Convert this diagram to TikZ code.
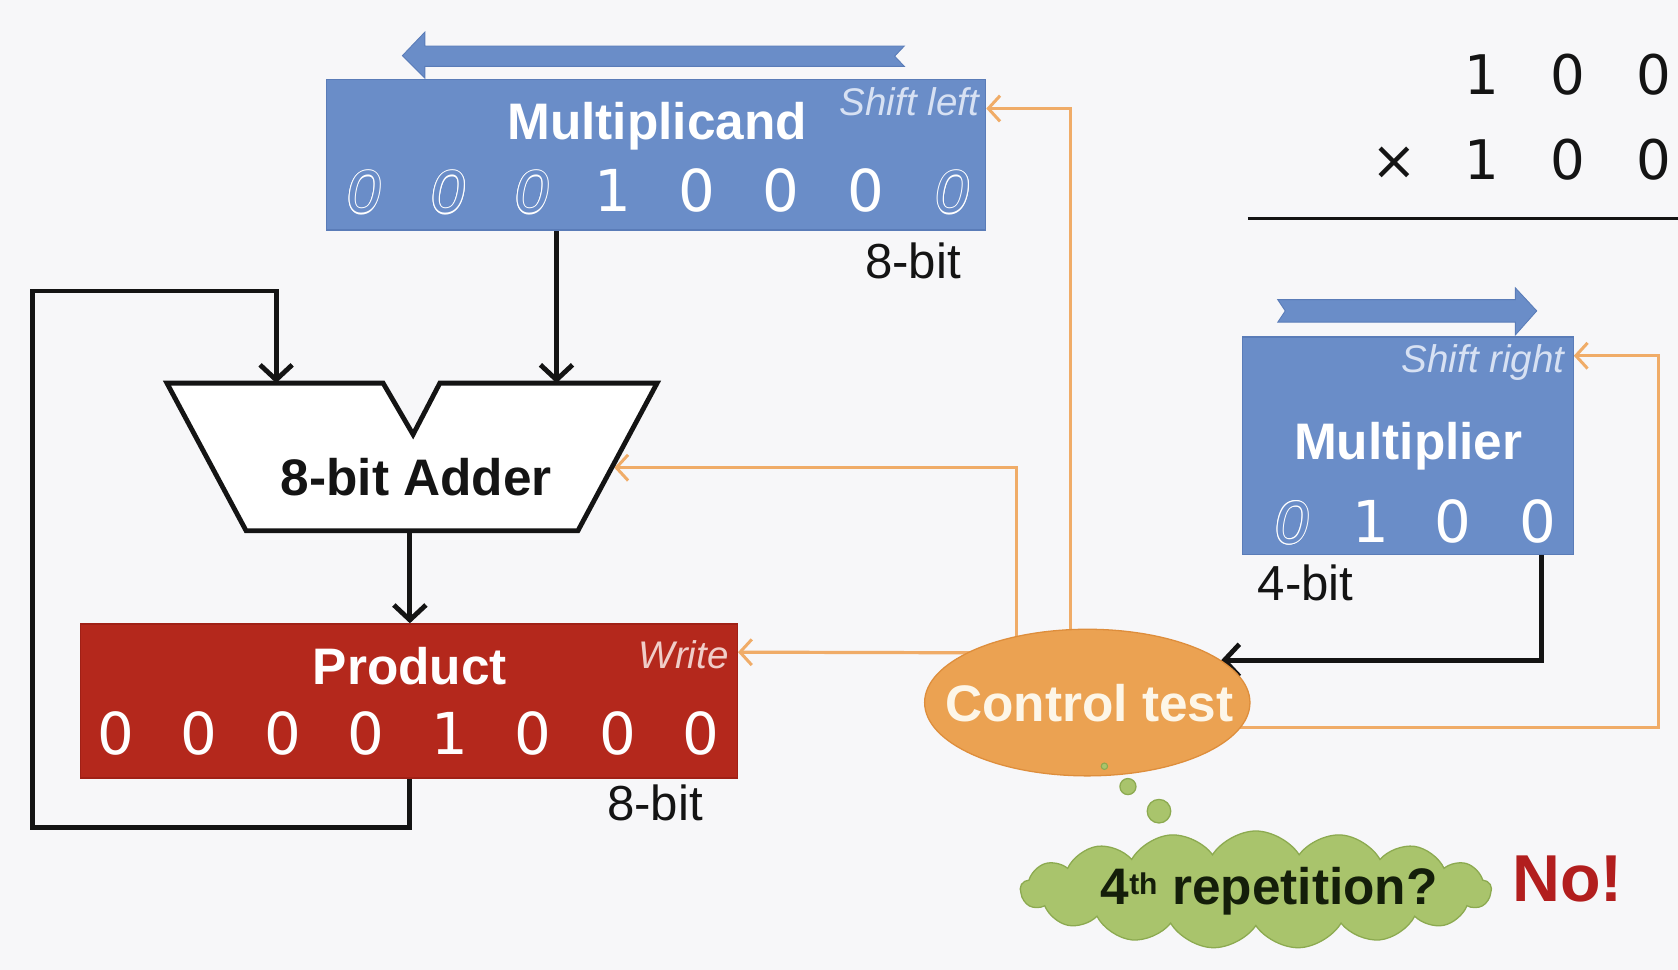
\documentclass[tikz,border=0pt]{standalone}
\usepackage{fontspec}
\setmainfont{Liberation Sans}
\newfontfamily\digitfont{DejaVu Sans}
\usetikzlibrary{arrows.meta,shapes.geometric,shapes.symbols,calc,backgrounds}

\definecolor{bgc}{RGB}{247,247,249}
\definecolor{regblue}{RGB}{106,141,200}
\definecolor{regblueedge}{RGB}{90,124,184}
\definecolor{regred}{RGB}{180,40,28}
\definecolor{regrededge}{RGB}{160,32,22}
\definecolor{ctlorange}{RGB}{235,162,82}
\definecolor{ctledge}{RGB}{222,142,60}
\definecolor{sigorange}{RGB}{240,172,104}
\definecolor{cloudgreen}{RGB}{169,196,108}
\definecolor{cloudedge}{RGB}{140,170,80}
\definecolor{nored}{RGB}{178,30,30}
\definecolor{bluetag}{RGB}{215,225,243}
\definecolor{redtag}{RGB}{240,205,200}
\definecolor{ink}{RGB}{20,20,20}

% a digit drawn as a white outline over the register colour
\newcommand\hollowzero[1]{%
  \setbox0=\hbox{\itshape 0}%
  \rlap{\color{white}%
    \rlap{\kern1pt\copy0}\rlap{\kern-1pt\copy0}%
    \rlap{\raise1pt\copy0}\rlap{\lower1pt\copy0}%
    \rlap{\kern0.7pt\raise0.7pt\copy0}\rlap{\kern-0.7pt\raise0.7pt\copy0}%
    \rlap{\kern0.7pt\lower0.7pt\copy0}\rlap{\kern-0.7pt\lower0.7pt\copy0}}%
  {\color{#1}\box0}}

\tikzset{
  reg/.style={rectangle, inner sep=0, line width=1.2pt},
  title/.style={font=\fontsize{48}{48}\selectfont\bfseries, text=white, inner sep=0, anchor=base},
  bit/.style={font=\digitfont\fontsize{54}{54}\selectfont, text=white, inner sep=0, anchor=base},
  hbit/.style={font=\fontsize{56}{56}\selectfont, inner sep=0, anchor=base},
  tag/.style={font=\fontsize{36}{36}\selectfont\itshape, inner sep=0, anchor=base east},
  sizelabel/.style={font=\fontsize{46}{46}\selectfont, text=ink, inner sep=0},
  arith/.style={font=\digitfont\fontsize{51}{51}\selectfont, text=ink, inner sep=0, anchor=base},
  wire/.style={draw=ink, line width=4.5pt, line join=miter,
    -{Straight Barb[length=14pt,width=30pt,line width=4.5pt]}},
  signal/.style={draw=sigorange, line width=3pt,
    -{Straight Barb[length=11pt,width=24pt,line width=2.8pt]}},
  blockarrow/.style={fill=regblue, draw=regblueedge, line width=0.8pt},
}

\begin{document}
\begin{tikzpicture}[x=1pt,y=-1pt]
\useasboundingbox (0,0) rectangle (1568,906);

% ---------- registers ----------
\node[reg, fill=regblue, draw=regblueedge, minimum width=616pt, minimum height=141pt] (mcand) at (613,144.5) {};
\node[reg, fill=regred, draw=regrededge, minimum width=614pt, minimum height=144pt] (prod) at (382,655) {};
\node[reg, fill=regblue, draw=regblueedge, minimum width=309pt, minimum height=203pt] (mplier) at (1315.5,416.5) {};

% shift direction arrows
\fill[blockarrow] (376,52) -- (397,30) -- (397,43) -- (845,43) -- (836,52.5) -- (845,62)
  -- (397,62) -- (397,73) -- cycle;
\fill[blockarrow] (1194,280) -- (1416,280) -- (1416,269) -- (1436,290.5) -- (1416,313)
  -- (1416,301) -- (1194,301) -- (1201,290.5) -- cycle;

% register titles and control tags
\node[title] (mcandtitle) at (614,130) {Multiplicand};
\node[tag, text=bluetag] (shl) at (915,108) {Shift left};
\node[title] (prodtitle) at (383,640) {Product};
\node[tag, text=redtag] (wr) at (681,625) {Write};
\node[title] (mpliertitle) at (1316,429) {Multiplier};
\node[tag, text=bluetag] (shr) at (1462,348) {Shift right};

% multiplicand bits
\node[hbit] (mc1) at (340,199) {\hollowzero{regblue}};
\node[hbit] (mc2) at (419,199) {\hollowzero{regblue}};
\node[hbit] (mc3) at (497,199) {\hollowzero{regblue}};
\node[bit]  (mc4) at (573,198) {1};
\node[bit]  (mc5) at (651,198) {0};
\node[bit]  (mc6) at (730,198) {0};
\node[bit]  (mc7) at (809,198) {0};
\node[hbit] (mc8) at (890,199) {\hollowzero{regblue}};

% product bits
\node[bit] (pb1) at (108,705) {0};
\node[bit] (pb2) at (186,705) {0};
\node[bit] (pb3) at (264,705) {0};
\node[bit] (pb4) at (342,705) {0};
\node[bit] (pb5) at (420,705) {1};
\node[bit] (pb6) at (498,705) {0};
\node[bit] (pb7) at (577,705) {0};
\node[bit] (pb8) at (655,705) {0};

% multiplier bits
\node[hbit] (mp1) at (1207,508) {\hollowzero{regblue}};
\node[bit]  (mp2) at (1281,507) {1};
\node[bit]  (mp3) at (1358,507) {0};
\node[bit]  (mp4) at (1437,507) {0};

% widths
\node[sizelabel, anchor=base east] (mcw) at (898,260) {8-bit};
\node[sizelabel, anchor=base east] (pw) at (657,767) {8-bit};
\node[sizelabel, anchor=base west] (mpw) at (1175,561) {4-bit};

% ---------- adder ----------
\filldraw[fill=white, draw=ink, line width=4.5pt, line join=miter]
  (156,358) -- (358,358) -- (386,406) -- (411,358) -- (614,358) -- (540,496) -- (230,496) -- cycle;
\node[font=\fontsize{48}{48}\selectfont\bfseries, text=ink, inner sep=0, anchor=base] (adder) at (389,463) {8-bit Adder};
\coordinate (addinl) at (258,358);
\coordinate (addinr) at (520,358);
\coordinate (addout) at (383,496);
\coordinate (addside) at (574,437);
\coordinate (fbbottom) at (30,773);
\coordinate (fbtop) at (30,272);

% ---------- control ----------
\node[ellipse, fill=ctlorange, draw=ctledge, line width=1.2pt, inner sep=0,
  minimum width=304pt, minimum height=137pt] (ctl) at (1016,656.5) {};
\node[font=\fontsize{48}{48}\selectfont\bfseries, text={rgb,255:red,253;green,246;blue,232}, inner sep=0] (ctltext) at (1018,657) {Control test};

% thought bubble
\filldraw[fill=cloudgreen, draw=cloudedge, line width=1pt] (1032,716) circle (3);
\filldraw[fill=cloudgreen, draw=cloudedge, line width=1.2pt] (1054,735) circle (7.5);
\filldraw[fill=cloudgreen, draw=cloudedge, line width=1.2pt] (1083,758) circle (11);
\node[cloud, cloud puffs=17, cloud puff arc=115, cloud ignores aspect, fill=cloudgreen, draw=cloudedge,
  line width=1.2pt, inner sep=0, minimum width=440pt, minimum height=110pt] (thought) at (1173.5,831.5) {};
\node[font=\fontsize{48}{48}\selectfont\bfseries, text={rgb,255:red,20;green,30;blue,10}, inner sep=0, anchor=base] (thoughttext) at (1186,845) {4\textsuperscript{\fontsize{28}{28}\selectfont th} repetition?};
\node[font=\fontsize{62}{62}\selectfont\bfseries, text=nored, inner sep=0, anchor=base] (answer) at (1465,842) {No!};

% ---------- worked multiplication ----------
\node[arith] (r1a) at (1385,88) {1};
\node[arith] (r1b) at (1465,88) {0};
\node[arith] (r1c) at (1545,88) {0};
\node[arith] (r2x) at (1303,168) {×};
\node[arith] (r2a) at (1385,168) {1};
\node[arith] (r2b) at (1465,168) {0};
\node[arith] (r2c) at (1545,168) {0};
\coordinate (rulestart) at (1166,204);
\coordinate (ruleend) at (1568,204);
\draw[ink, line width=3pt] (rulestart) -- (ruleend);

% ---------- connections ----------
\begin{scope}[on background layer]
  \fill[bgc] (0,0) rectangle (1568,906);
  % data paths
  \draw[wire] (addinr |- mcand.south) -- (addinr);
  \draw[wire] (addout) -- (addout |- prod.north);
  \draw[wire] (addout |- prod.south) |- (fbbottom) -- (fbtop) -| (addinl);
  \draw[wire] ($(mplier.south east)+(-30,0)$) |- ($(ctl.center)+(125,-39.5)$);
  % control signals
  \draw[signal] ($(ctl.center)+(-16,0)$) |- ($(mcand.north east)+(0,28)$);
  \draw[signal] ($(ctl.center)+(-66,0)$) |- (addside);
  \draw[signal] ($(ctl.center)+(-100,-46.5)$) -- ($(prod.north east)+(0,27)$);
  \draw[signal] ($(ctl.center)+(100,23.5)$) -- (1550,680) |- ($(mplier.north east)+(0,18)$);
\end{scope}
\end{tikzpicture}
\end{document}
